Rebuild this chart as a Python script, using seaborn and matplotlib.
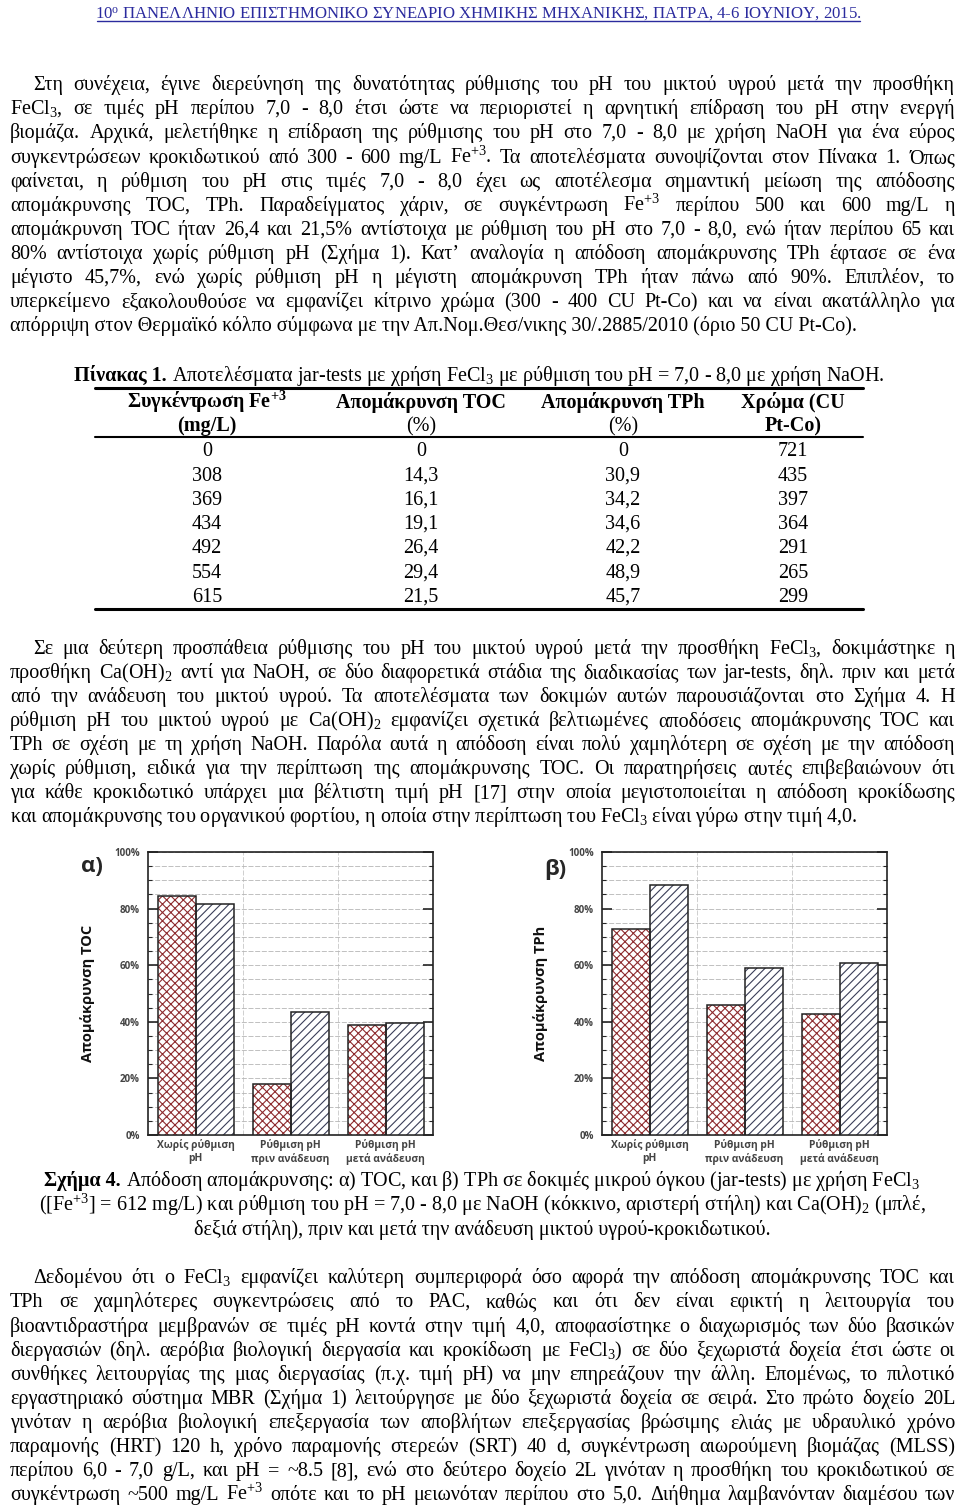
import numpy as np
import pandas as pd
import matplotlib
matplotlib.use("Agg")
import matplotlib.pyplot as plt
from matplotlib.patches import Rectangle
from matplotlib.lines import Line2D
from matplotlib.ticker import MultipleLocator, FuncFormatter
import seaborn as sns

sns.set_theme(style="white")
plt.rcParams['mathtext.default'] = 'regular'
plt.rcParams['hatch.linewidth'] = 0.8
SERIF = ['Liberation Serif', 'DejaVu Serif']
SANS = ['Open Sans', 'DejaVu Sans']
plt.rcParams['font.family'] = SANS

# ---------------- data ----------------
categories = ["Χωρίς ρύθμιση\npH", "Ρύθμιση pH\nπριν ανάδευση", "Ρύθμιση pH\nμετά ανάδευση"]
reagents = ["NaOH", "Ca(OH)2"]
toc_naoh = [84.6, 17.9, 38.8]
toc_caoh = [81.8, 43.6, 39.7]
tph_naoh = [72.8, 45.9, 42.8]
tph_caoh = [88.2, 59.0, 60.8]
y_ticks = [0, 20, 40, 60, 80, 100]

fe_conc = [0, 308, 369, 434, 492, 554, 615]
table_toc = [0, 14.3, 16.1, 19.1, 26.4, 29.4, 21.5]
table_tph = [0, 30.9, 34.2, 34.6, 42.2, 48.9, 45.7]
table_color = [721, 435, 397, 364, 291, 265, 299]
table_head1 = ["Συγκέντρωση Fe$^{+3}$", "Απομάκρυνση TOC", "Απομάκρυνση TPh", "Χρώμα (CU"]
table_head2 = ["(mg/L)", "(%)", "(%)", "Pt-Co)"]
table_head2_bold = [True, False, False, True]

header_text = "10$^{o}$ ΠΑΝΕΛΛΗΝΙΟ ΕΠΙΣΤΗΜΟΝΙΚΟ ΣΥΝΕΔΡΙΟ ΧΗΜΙΚΗΣ ΜΗΧΑΝΙΚΗΣ, ΠΑΤΡΑ, 4-6 ΙΟΥΝΙΟΥ, 2015."

para1 = [
    "Στη συνέχεια, έγινε διερεύνηση της δυνατότητας ρύθμισης του pH του μικτού υγρού μετά την προσθήκη",
    "FeCl$_3$, σε τιμές pH περίπου 7,0 - 8,0 έτσι ώστε να περιοριστεί η αρνητική επίδραση του pH στην ενεργή",
    "βιομάζα. Αρχικά, μελετήθηκε η επίδραση της ρύθμισης του pH στο 7,0 - 8,0 με χρήση NaOH για ένα εύρος",
    "συγκεντρώσεων κροκιδωτικού από 300 - 600 mg/L Fe$^{+3}$. Τα αποτελέσματα συνοψίζονται στον Πίνακα 1. Όπως",
    "φαίνεται, η ρύθμιση του pH στις τιμές 7,0 - 8,0 έχει ως αποτέλεσμα σημαντική μείωση της απόδοσης",
    "απομάκρυνσης TOC, TPh. Παραδείγματος χάριν, σε συγκέντρωση Fe$^{+3}$ περίπου 500 και 600 mg/L η",
    "απομάκρυνση TOC ήταν 26,4 και 21,5% αντίστοιχα με ρύθμιση του pH στο 7,0 - 8,0, ενώ ήταν περίπου 65 και",
    "80% αντίστοιχα χωρίς ρύθμιση pH (Σχήμα 1). Κατ’ αναλογία η απόδοση απομάκρυνσης TPh έφτασε σε ένα",
    "μέγιστο 45,7%, ενώ χωρίς ρύθμιση pH η μέγιστη απομάκρυνση TPh ήταν πάνω από 90%. Επιπλέον, το",
    "υπερκείμενο εξακολουθούσε να εμφανίζει κίτρινο χρώμα (300 - 400 CU Pt-Co) και να είναι ακατάλληλο για",
    "απόρριψη στον Θερμαϊκό κόλπο σύμφωνα με την Απ.Νομ.Θεσ/νικης 30/.2885/2010 (όριο 50 CU Pt-Co).",
]
para2 = [
    "Σε μια δεύτερη προσπάθεια ρύθμισης του pH του μικτού υγρού μετά την προσθήκη FeCl$_3$, δοκιμάστηκε η",
    "προσθήκη Ca(OH)$_2$ αντί για NaOH, σε δύο διαφορετικά στάδια της διαδικασίας των jar-tests, δηλ. πριν και μετά",
    "από την ανάδευση του μικτού υγρού. Τα αποτελέσματα των δοκιμών αυτών παρουσιάζονται στο Σχήμα 4. Η",
    "ρύθμιση pH του μικτού υγρού με Ca(OH)$_2$ εμφανίζει σχετικά βελτιωμένες αποδόσεις απομάκρυνσης TOC και",
    "TPh σε σχέση με τη χρήση NaOH. Παρόλα αυτά η απόδοση είναι πολύ χαμηλότερη σε σχέση με την απόδοση",
    "χωρίς ρύθμιση, ειδικά για την περίπτωση της απομάκρυνσης TOC. Οι παρατηρήσεις αυτές επιβεβαιώνουν ότι",
    "για κάθε κροκιδωτικό υπάρχει μια βέλτιστη τιμή pH [17] στην οποία μεγιστοποιείται η απόδοση κροκίδωσης",
    "και απομάκρυνσης του οργανικού φορτίου, η οποία στην περίπτωση του FeCl$_3$ είναι γύρω στην τιμή 4,0.",
]
caption4 = [
    ("Σχήμα 4.", "Απόδοση απομάκρυνσης: α) TOC, και β) TPh σε δοκιμές μικρού όγκου (jar-tests) με χρήση FeCl$_3$"),
    ("", "([Fe$^{+3}$] = 612 mg/L) και ρύθμιση του pH = 7,0 - 8,0 με NaOH (κόκκινο, αριστερή στήλη) και Ca(OH)$_2$ (μπλέ,"),
    ("", "δεξιά στήλη), πριν και μετά την ανάδευση μικτού υγρού-κροκιδωτικού."),
]
table_caption = ("Πίνακας 1.", "Αποτελέσματα jar-tests με χρήση FeCl$_3$ με ρύθμιση του pH = 7,0 - 8,0 με χρήση NaOH.")
para3 = [
    "Δεδομένου ότι ο FeCl$_3$ εμφανίζει καλύτερη συμπεριφορά όσο αφορά την απόδοση απομάκρυνσης TOC και",
    "TPh σε χαμηλότερες συγκεντρώσεις από το PAC, καθώς και ότι δεν είναι εφικτή η λειτουργία του",
    "βιοαντιδραστήρα μεμβρανών σε τιμές pH κοντά στην τιμή 4,0, αποφασίστηκε ο διαχωρισμός των δύο βασικών",
    "διεργασιών (δηλ. αερόβια βιολογική διεργασία και κροκίδωση με FeCl$_3$) σε δύο ξεχωριστά δοχεία έτσι ώστε οι",
    "συνθήκες λειτουργίας της μιας διεργασίας (π.χ. τιμή pH) να μην επηρεάζουν την άλλη. Επομένως, το πιλοτικό",
    "εργαστηριακό σύστημα MBR (Σχήμα 1) λειτούργησε με δύο ξεχωριστά δοχεία σε σειρά. Στο πρώτο δοχείο 20L",
    "γινόταν η αερόβια βιολογική επεξεργασία των αποβλήτων επεξεργασίας βρώσιμης ελιάς με υδραυλικό χρόνο",
    "παραμονής (HRT) 120 h, χρόνο παραμονής στερεών (SRT) 40 d, συγκέντρωση αιωρούμενη βιομάζας (MLSS)",
    "περίπου 6,0 - 7,0 g/L, και pH = ~8.5 [8], ενώ στο δεύτερο δοχείο 2L γινόταν η προσθήκη του κροκιδωτικού σε",
    "συγκέντρωση ~500 mg/L Fe$^{+3}$ οπότε και το pH μειωνόταν περίπου στο 5,0. Διήθημα λαμβανόνταν διαμέσου των",
]

# ---------------- figure ----------------
W, H = 960, 1509
fig = plt.figure(figsize=(W / 100, H / 100), dpi=100)
fig.patch.set_facecolor('white')
R = fig.canvas.get_renderer()


def fx(px):
    return px / W


def fy(py):
    return 1 - py / H


def make(s, x, y, fs, weight='normal', ha='left', color='black', family=SERIF):
    return fig.text(fx(x), fy(y), s, fontsize=fs, fontweight=weight, ha=ha,
                    va='baseline', color=color, family=family)


def width_of(s, fs, weight='normal', family=SERIF):
    t = fig.text(0, 0, s, fontsize=fs, fontweight=weight, family=family)
    w = t.get_window_extent(renderer=R).width
    t.remove()
    return w


LEFT, RIGHT, INDENT = 10, 955, 33

# choose body font size so that the longest justified line fits
fs_body = 14.5
ratio = 0.0
for par, last_justified in ((para1, False), (para2, False), (para3, True)):
    for i, line in enumerate(par):
        if i == len(par) - 1 and not last_justified:
            continue
        x0 = INDENT if i == 0 else LEFT
        ratio = max(ratio, width_of(line, fs_body) / (RIGHT - x0) / 0.995)
if ratio > 1:
    fs_body = fs_body / ratio


def justified(line, x0, x1, ybase, fs):
    words = line.split(' ')
    widths = [width_of(w, fs) for w in words]
    gap = (x1 - x0 - sum(widths)) / max(len(words) - 1, 1)
    x = x0
    for w, wd in zip(words, widths):
        make(w, x, ybase, fs)
        x += wd + gap


def paragraph(lines, centers, last_justified=False):
    for i, (line, c) in enumerate(zip(lines, centers)):
        x0 = INDENT if i == 0 else LEFT
        yb = c + 6
        if i == len(lines) - 1 and not last_justified:
            make(line, x0, yb, fs_body)
        else:
            justified(line, x0, RIGHT, yb, fs_body)


def centered_two_part(bold, rest, cx, ybase, fs):
    if bold:
        wb = width_of(bold + ' ', fs, 'bold')
        wr = width_of(rest, fs)
        x0 = cx - (wb + wr) / 2
        make(bold, x0, ybase, fs, 'bold')
        make(rest, x0 + wb, ybase, fs)
    else:
        make(rest, cx, ybase, fs, ha='center')


# header
hdr_fs = 12.0
hw = width_of(header_text, hdr_fs)
hdr_fs *= 763 / hw
hdr_color = '#2b2b9e'
make(header_text, 478, 18, hdr_fs, ha='center', color=hdr_color)
fig.add_artist(Line2D([fx(97), fx(860)], [fy(21), fy(21)], color=hdr_color, lw=1.0))

# paragraph 1
paragraph(para1, [84, 108, 132, 157, 181, 205, 229, 253, 277, 301, 325])

# table
centered_two_part(table_caption[0], table_caption[1], 479, 381, fs_body)
fig.add_artist(Line2D([fx(95), fx(863)], [fy(388), fy(388)], color='black', lw=2.2))
fig.add_artist(Line2D([fx(95), fx(863)], [fy(437), fy(437)], color='black', lw=1.5))
fig.add_artist(Line2D([fx(95), fx(863)], [fy(609), fy(609)], color='black', lw=2.2))
col_x = [207, 421, 623, 793]
for cx, h1, h2, b2 in zip(col_x, table_head1, table_head2, table_head2_bold):
    make(h1, cx, 408, fs_body, 'bold', ha='center')
    make(h2, cx, 431, fs_body, 'bold' if b2 else 'normal', ha='center')


def fmt_num(v):
    return "0" if v == 0 else f"{v:.1f}".replace('.', ',')


row_y = [450, 475, 499, 523, 547, 572, 596]
for ry, fe, toc, tph, col in zip(row_y, fe_conc, table_toc, table_tph, table_color):
    for cx, s in zip(col_x, [str(fe), fmt_num(toc), fmt_num(tph), str(col)]):
        make(s, cx, ry + 6, fs_body, ha='center')

# paragraph 2
paragraph(para2, [648, 672, 696, 720, 744, 768, 792, 816])

# ---------------- charts ----------------
hatch_styles = [('xxxx', '#8e2b2e'), ('////', '#3a3e58')]


def bar_chart(left_px, naoh, caoh, ylabel, panel, panel_xy, label_off):
    ax = fig.add_axes([fx(left_px), fy(1135), 285 / W, 283 / H])
    df = pd.DataFrame({
        'cat': categories * 2,
        'val': list(naoh) + list(caoh),
        'reagent': [reagents[0]] * 3 + [reagents[1]] * 3,
    })
    sns.barplot(data=df, x='cat', y='val', hue='reagent', hue_order=reagents,
                palette=['white', 'white'], width=0.8, errorbar=None,
                legend=False, ax=ax, zorder=3)
    for cont, (hatch, hcol) in zip(ax.containers, hatch_styles):
        for p in cont.patches:
            p.set_facecolor('white')
            p.set_edgecolor(hcol)
            p.set_hatch(hatch)
            p.set_linewidth(0)
            ax.add_patch(Rectangle(p.get_xy(), p.get_width(), p.get_height(),
                                   fill=False, edgecolor='#222222', lw=1.1, zorder=4))
    ax.set_ylim(0, 100)
    ax.set_xlim(-0.5, 2.5)
    ax.set_yticks(y_ticks)
    ax.yaxis.set_major_formatter(FuncFormatter(lambda v, _: f"{v:.0f}%"))
    ax.yaxis.set_minor_locator(MultipleLocator(5))
    ax.grid(axis='y', which='both', linestyle=(0, (6, 2)), color='#b5b5b5', lw=0.6, zorder=0)
    for xv in (0.5, 1.5):
        ax.axvline(xv, color='#c8c8c8', lw=0.6, linestyle=(0, (6, 2)), zorder=0)
    ax.tick_params(axis='y', which='major', direction='in', length=7, width=1.2,
                   left=True, right=True, labelsize=7, labelcolor='#444444', pad=6)
    ax.tick_params(axis='y', which='minor', direction='in', length=3, width=0.8,
                   left=True, right=True)
    for lab in ax.get_yticklabels():
        lab.set_fontweight('bold')
    ax.tick_params(axis='x', length=0, labelsize=7.4, labelcolor='#444444', pad=3)
    for lab in ax.get_xticklabels():
        lab.set_fontweight('bold')
        lab.set_linespacing(1.25)
    ax.set_xlabel('')
    ax.set_ylabel(ylabel, fontsize=10.5, fontweight='bold', color='#111111')
    ax.yaxis.set_label_coords(-label_off / 285, 0.5)
    for s in ax.spines.values():
        s.set_visible(True)
        s.set_color('#222222')
        s.set_linewidth(1.2)
    fig.text(fx(panel_xy[0]), fy(panel_xy[1]), panel, fontsize=16, fontweight='bold',
             ha='center', va='center', family=SANS)
    return ax


bar_chart(148, toc_naoh, toc_caoh, "Απομάκρυνση TOC", "α)", (92, 867), 53)
bar_chart(602, tph_naoh, tph_caoh, "Απομάκρυνση TPh", "β)", (555, 869), 54)

# caption
for (bold, rest), c in zip(caption4, [1180, 1205, 1229]):
    centered_two_part(bold, rest, 482, c + 6, fs_body)

# paragraph 3
paragraph(para3, [1277, 1301, 1326, 1350, 1374, 1398, 1422, 1446, 1470, 1494], last_justified=True)

fig.savefig("out.png", dpi=100, facecolor='white')
